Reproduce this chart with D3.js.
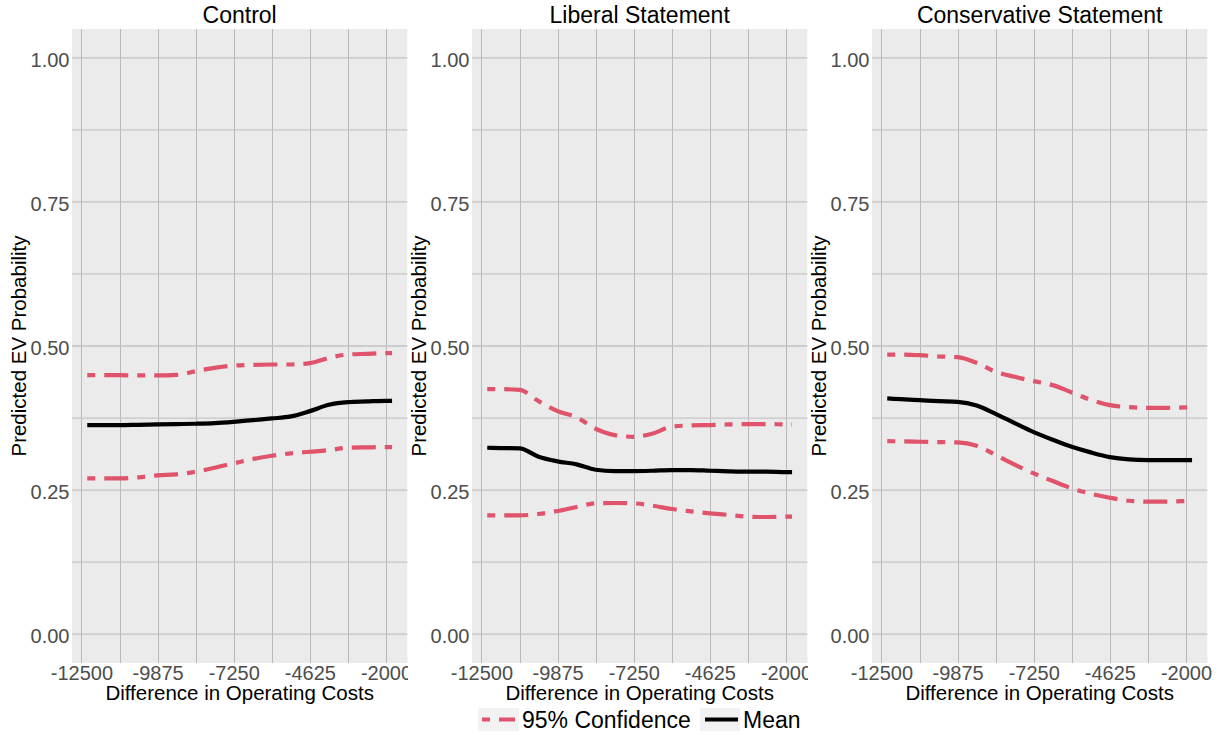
<!DOCTYPE html>
<html>
<head>
<meta charset="utf-8">
<script src="https://cdn.jsdelivr.net/npm/d3@7"></script>
<style>
  body { margin: 0; background: #ffffff; }
  svg { display: block; font-family: "Liberation Sans", Arial, sans-serif; }
</style>
</head>
<body>
<script>
// difference in operating costs (x) shared by every panel
var costDiff = [-12300, -11844, -11188, -10531, -9875, -9219, -8563, -7906, -7250,
                -6594, -5938, -5281, -4625, -3969, -3313, -2656, -2000, -1790];

// Control
var controlMean = [0.3627, 0.3627, 0.3627, 0.3633, 0.3639, 0.3645, 0.3651, 0.3662, 0.3685,
                   0.3714, 0.3743, 0.3778, 0.3870, 0.3980, 0.4026, 0.4038, 0.4049, 0.4049];
var controlLow  = [0.2703, 0.2703, 0.2703, 0.2721, 0.2756, 0.2773, 0.2818, 0.2887, 0.2963,
                   0.3038, 0.3095, 0.3137, 0.3165, 0.3194, 0.3234, 0.3241, 0.3246, 0.3246];
var controlHigh = [0.4494, 0.4494, 0.4494, 0.4489, 0.4489, 0.4499, 0.4563, 0.4621, 0.4662,
                   0.4673, 0.4679, 0.4679, 0.4702, 0.4794, 0.4852, 0.4864, 0.4875, 0.4875];

// Liberal Statement
var liberalMean = [0.3235, 0.3229, 0.3224, 0.3079, 0.2998, 0.2946, 0.2853, 0.2830, 0.2830,
                   0.2836, 0.2847, 0.2847, 0.2836, 0.2825, 0.2819, 0.2819, 0.2813, 0.2813];
var liberalLow  = [0.2062, 0.2062, 0.2062, 0.2085, 0.2137, 0.2207, 0.2270, 0.2276, 0.2270,
                   0.2229, 0.2172, 0.2132, 0.2097, 0.2068, 0.2039, 0.2033, 0.2039, 0.2039];
var liberalHigh = [0.4251, 0.4251, 0.4240, 0.4043, 0.3870, 0.3761, 0.3564, 0.3454, 0.3425,
                   0.3483, 0.3599, 0.3622, 0.3628, 0.3640, 0.3645, 0.3645, 0.3640, 0.3640];

// Conservative Statement
var conservMean = [0.4090, 0.4078, 0.4061, 0.4044, 0.4032, 0.3969, 0.3824, 0.3662, 0.3506,
                   0.3373, 0.3252, 0.3154, 0.3073, 0.3033, 0.3021, 0.3021, 0.3021, 0.3021];
var conservLow  = [0.3350, 0.3345, 0.3339, 0.3333, 0.3328, 0.3269, 0.3108, 0.2940, 0.2790,
                   0.2657, 0.2530, 0.2437, 0.2368, 0.2315, 0.2299, 0.2299, 0.2310, 0.2315];
var conservHigh = [0.4852, 0.4852, 0.4841, 0.4818, 0.4806, 0.4708, 0.4552, 0.4465, 0.4390,
                   0.4321, 0.4194, 0.4066, 0.3974, 0.3940, 0.3928, 0.3928, 0.3934, 0.3934];

var panelTitles = ["Control", "Liberal Statement", "Conservative Statement"];
var xTicks = [-12500, -9875, -7250, -4625, -2000];
var xMinor = [-11187.5, -8562.5, -5937.5, -3312.5];
var yTicks = [0, 0.25, 0.5, 0.75, 1];
var yMinor = [0.125, 0.375, 0.625, 0.875];
var legendLabels = ["95% Confidence", "Mean"];

var panels = [
    {title: panelTitles[0], mean: controlMean, low: controlLow, high: controlHigh},
    {title: panelTitles[1], mean: liberalMean, low: liberalLow, high: liberalHigh},
    {title: panelTitles[2], mean: conservMean, low: conservLow, high: conservHigh}
];

var red = "#DF536B";
var dashes = "8,9,24,9";

var svg = d3.select("body").append("svg")
    .attr("width", 1222)
    .attr("height", 735);

// each small plot is clipped to its own slot, like grid.arrange does
var slots = [[0, 408], [408, 808], [808, 1222]];
var defs = svg.append("defs");

// ggplot style 5% expansion around the data range
var xext = d3.extent(costDiff);
var xpad = (xext[1] - xext[0]) * 0.05;

var panelTop = 29, panelBottom = 663, pw = 335.3;

panels.forEach(function(p, i) {
    var ox = 400 * i;
    var left = 72 + ox;

    defs.append("clipPath").attr("id", "slot" + i)
        .append("rect")
        .attr("x", slots[i][0]).attr("y", 0)
        .attr("width", slots[i][1] - slots[i][0]).attr("height", 735);

    var g = svg.append("g").attr("clip-path", "url(#slot" + i + ")");

    var x = d3.scaleLinear()
        .domain([xext[0] - xpad, xext[1] + xpad])
        .range([left, left + pw]);
    var y = d3.scaleLinear()
        .domain([-0.05, 1.05])
        .range([panelBottom, panelTop]);

    // panel background
    g.append("rect")
        .attr("x", left).attr("y", panelTop)
        .attr("width", pw).attr("height", panelBottom - panelTop)
        .attr("fill", "#EBEBEB");

    // grid lines
    g.selectAll(".vgrid").data(xMinor.concat(xTicks)).enter().append("line")
        .attr("x1", function(d) { return Math.round(x(d)) + 0.5; })
        .attr("x2", function(d) { return Math.round(x(d)) + 0.5; })
        .attr("y1", panelTop).attr("y2", panelBottom)
        .attr("stroke", "#B9B9B9").attr("stroke-width", 1);
    g.selectAll(".hminor").data(yMinor).enter().append("line")
        .attr("x1", left).attr("x2", left + pw)
        .attr("y1", function(d) { return y(d); }).attr("y2", function(d) { return y(d); })
        .attr("stroke", "#C6C6C6").attr("stroke-width", 1.2);
    g.selectAll(".hmajor").data(yTicks).enter().append("line")
        .attr("x1", left).attr("x2", left + pw)
        .attr("y1", function(d) { return y(d); }).attr("y2", function(d) { return y(d); })
        .attr("stroke", "#C2C2C2").attr("stroke-width", 1.3);

    // lines
    var line = function(vals) {
        return d3.line()
            .x(function(d, k) { return x(costDiff[k]); })
            .y(function(d) { return y(d); })
            .curve(d3.curveMonotoneX)(vals);
    };

    [p.high, p.low].forEach(function(vals) {
        g.append("path")
            .attr("d", line(vals))
            .attr("fill", "none")
            .attr("stroke", red)
            .attr("stroke-width", 4.2)
            .attr("stroke-dasharray", dashes)
            .attr("stroke-linejoin", "round");
    });
    g.append("path")
        .attr("d", line(p.mean))
        .attr("fill", "none")
        .attr("stroke", "#000000")
        .attr("stroke-width", 4.2)
        .attr("stroke-linejoin", "round");

    // axes
    var xAxis = g.append("g")
        .attr("transform", "translate(0," + panelBottom + ")")
        .call(d3.axisBottom(x).tickValues(xTicks).tickSize(0).tickFormat(function(d) { return String(d); }));
    xAxis.select(".domain").remove();
    xAxis.selectAll("text")
        .attr("y", 16.5).attr("dy", null)
        .attr("fill", "#4D4D4D")
        .style("font-size", "20px")
        .style("font-family", "'Liberation Sans', Arial, sans-serif");

    var yAxis = g.append("g")
        .attr("transform", "translate(" + left + ",0)")
        .call(d3.axisLeft(y).tickValues(yTicks).tickSize(0).tickFormat(d3.format(".2f")));
    yAxis.select(".domain").remove();
    yAxis.selectAll("text")
        .attr("x", -2.5).attr("dy", "8.5")
        .attr("fill", "#4D4D4D")
        .style("font-size", "20px")
        .style("font-family", "'Liberation Sans', Arial, sans-serif");

    // titles
    g.append("text")
        .text(p.title)
        .attr("x", left + pw / 2).attr("y", 22.5)
        .attr("text-anchor", "middle")
        .style("font-size", "23px");

    g.append("text")
        .text("Difference in Operating Costs")
        .attr("x", left + pw / 2).attr("y", 700)
        .attr("text-anchor", "middle")
        .style("font-size", "20.5px");

    g.append("text")
        .text("Predicted EV Probability")
        .attr("transform", "translate(" + (26 + ox) + "," + ((panelTop + panelBottom) / 2) + ") rotate(-90)")
        .attr("text-anchor", "middle")
        .style("font-size", "20.5px");
});

// legend
var legend = svg.append("g");

legend.append("rect")
    .attr("x", 478).attr("y", 708).attr("width", 41).attr("height", 23)
    .attr("fill", "#F2F2F2");
legend.append("line")
    .attr("x1", 482).attr("x2", 515).attr("y1", 719.5).attr("y2", 719.5)
    .attr("stroke", red).attr("stroke-width", 4.2)
    .attr("stroke-dasharray", dashes);
legend.append("text")
    .text(legendLabels[0])
    .attr("x", 522).attr("y", 728)
    .style("font-size", "23px");

legend.append("rect")
    .attr("x", 700).attr("y", 708).attr("width", 40).attr("height", 23)
    .attr("fill", "#F2F2F2");
legend.append("line")
    .attr("x1", 705).attr("x2", 738).attr("y1", 719.5).attr("y2", 719.5)
    .attr("stroke", "#000000").attr("stroke-width", 4.2);
legend.append("text")
    .text(legendLabels[1])
    .attr("x", 743).attr("y", 728)
    .style("font-size", "23px");
</script>
</body>
</html>
